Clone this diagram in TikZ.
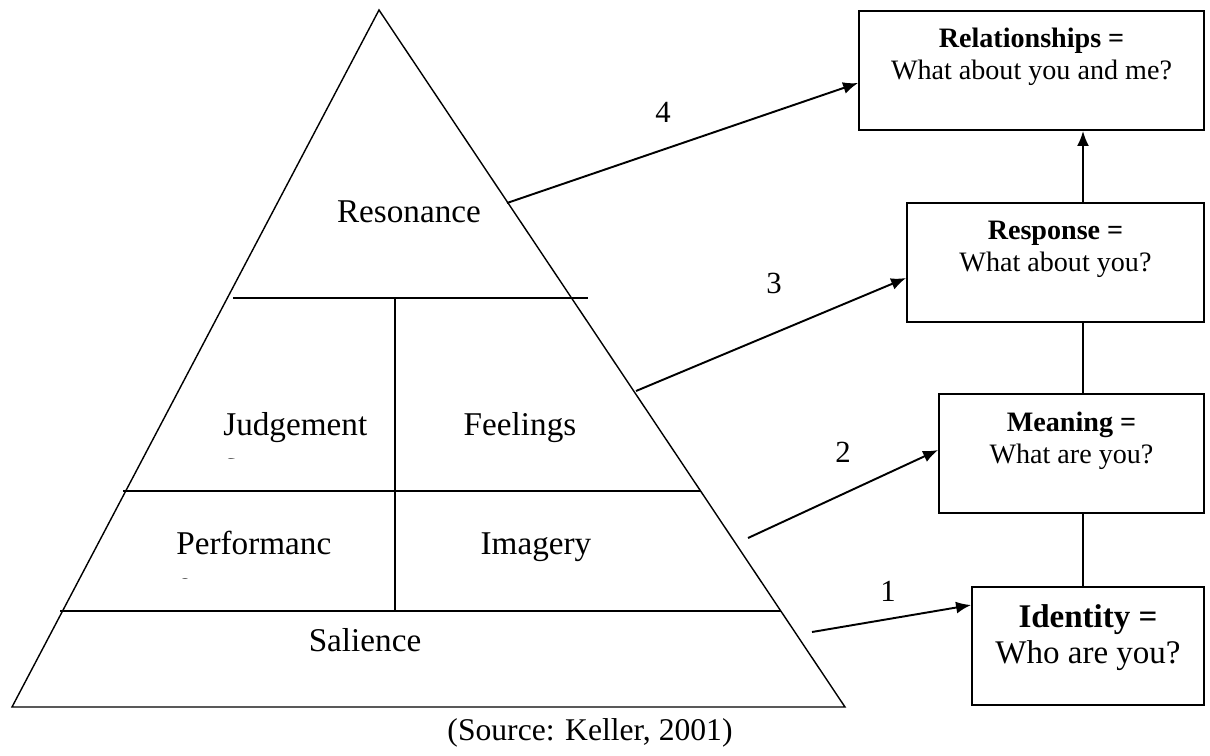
\documentclass[tikz,border=0pt]{standalone}
\usepackage{fontspec}
\setmainfont{Liberation Serif}
\usetikzlibrary{positioning, arrows.meta}

\tikzset{
  estilo piramide/.style={
      x=0.02cm, y=-0.02cm,
      borde/.style={line width=0.8pt},
      nivel/.style={anchor=base, inner sep=0pt, font={\fontsize{18.9}{22}\selectfont}},
      caja/.style={draw, line width=1.1pt, minimum height=2.38cm, inner sep=0pt},
      texto caja/.style={anchor=north, align=center, inner sep=0pt, font={\fontsize{16}{18.2}\selectfont}},
      flecha/.style={-{Latex[length=0.3cm, width=0.24cm]}, line width=1.1pt},
      numero/.style={anchor=base, inner sep=0pt, font={\fontsize{17.5}{20}\selectfont}},
    },
}

\begin{document}
\begin{tikzpicture}[estilo piramide]
  \useasboundingbox (0,0) rectangle (1210,755);

  % piramide
  \draw[borde] (379,10) -- (845,707) -- (12,707) -- cycle;
  \draw[borde] (233,298) -- (588,298);
  \draw[borde] (123,491) -- (701,491);
  \draw[borde] (60,611) -- (781,611);
  \draw[borde] (395,298) -- (395,611);

  \node[nivel] (reso) at (409,222) {Resonance};
  \node[nivel, anchor=base west] (juic) at (223,435) {Judgement};
  \node[nivel] (sent) at (520,435) {Feelings};
  \node[nivel, anchor=base west] (desem) at (176,554) {Performanc};
  \node[nivel] (imag) at (536,554) {Imagery};
  \node[nivel] (sali) at (365,651) {Salience};

  % letras cortadas
  \begin{scope}
    \clip (215,440) rectangle (245,458.5);
    \node[nivel, anchor=base west] (juic-s) at (224,474) {s};
  \end{scope}
  \begin{scope}
    \clip (170,560) rectangle (200,578.5);
    \node[nivel, anchor=base west] (desem-e) at (177,594) {e};
  \end{scope}

  % cajas
  \node[caja, minimum width=6.9cm] (rel) at (1031.5,70.5) {};
  \node[caja, minimum width=5.94cm] (resp) at (1055.5,262.5) {};
  \node[caja, minimum width=5.3cm] (signif) at (1071.5,453.5) {};
  \node[caja, minimum width=4.64cm, minimum height=2.36cm] (ident) at (1088,646) {};

  \node[texto caja, below=0.36cm of rel.north] (rel-t) {\textbf{Relationships =}\\What about you and me?};
  \node[texto caja, below=0.38cm of resp.north] (resp-t) {\textbf{Response =}\\What about you?};
  \node[texto caja, below=0.38cm of signif.north] (signif-t) {\textbf{Meaning =}\\What are you?};
  \node[texto caja, below=0.36cm of ident.north, font={\fontsize{18.8}{20.5}\selectfont}] (ident-t) {\textbf{Identity =}\\Who are you?};

  \coordinate (eje) at (1083,0);
  \draw[borde, line width=1.1pt] (ident.north -| eje) -- (signif.south -| eje);
  \draw[borde, line width=1.1pt] (signif.north -| eje) -- (resp.south -| eje);
  \draw[flecha] (resp.north -| eje) -- (rel.south -| eje);

  % flechas
  \coordinate (s1) at (812,632);
  \coordinate (s2) at (748,538);
  \coordinate (s3) at (636,391);
  \coordinate (s4) at (507,203);

  \draw[flecha] (s1) -- ([yshift=0.82cm]ident.west);
  \draw[flecha] (s2) -- ([yshift=0.07cm]signif.west);
  \draw[flecha] (s3) -- ([yshift=-0.31cm]resp.west);
  \draw[flecha] (s4) -- ([yshift=-0.25cm]rel.west);

  \node[numero] (n1) at (888,601) {1};
  \node[numero] (n2) at (843,462) {2};
  \node[numero] (n3) at (774,293) {3};
  \node[numero] (n4) at (663,122) {4};

  \node[nivel, font={\fontsize{18}{21}\selectfont}] (fuente) at (590,740) {(Source: Keller, 2001)};
\end{tikzpicture}
\end{document}
